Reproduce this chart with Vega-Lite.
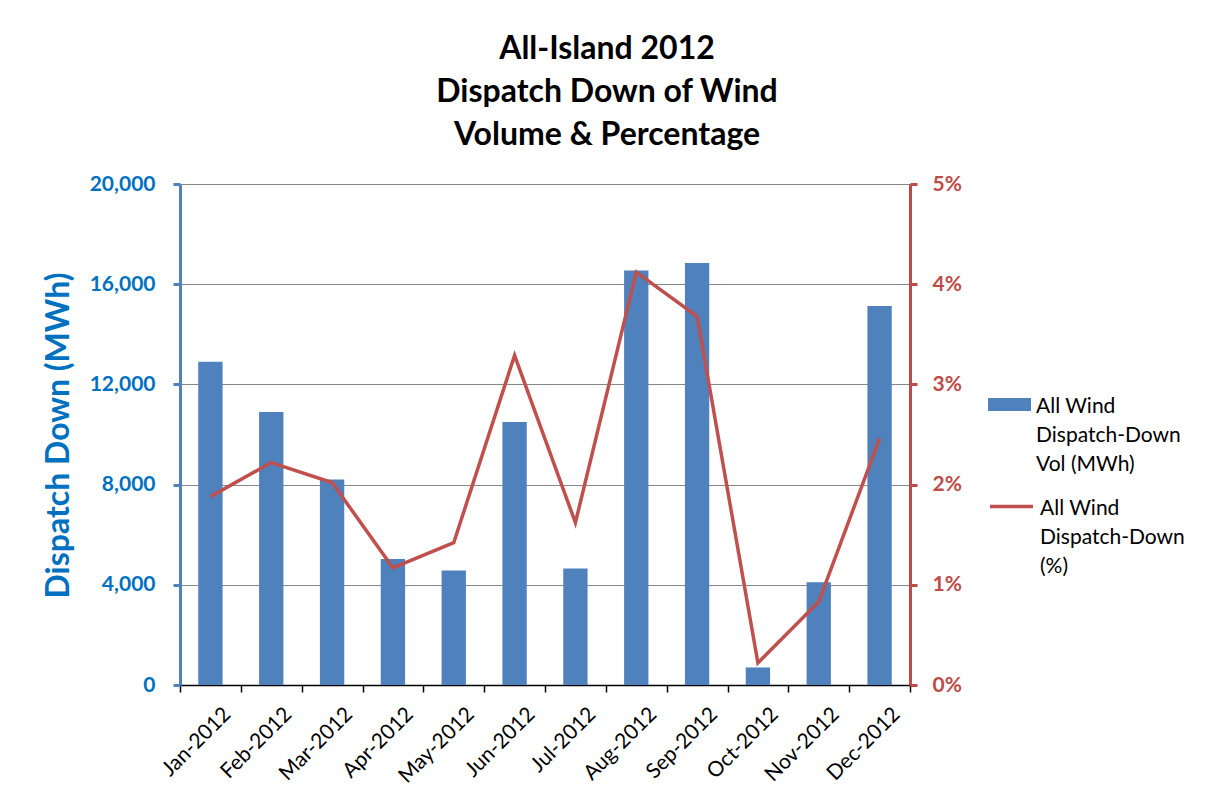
{
  "$schema": "https://vega.github.io/schema/vega-lite/v6.json",
  "width": 730,
  "height": 501,
  "autosize": {"type": "none"},
  "padding": {"left": 180, "top": 184, "right": 295, "bottom": 126},
  "background": "white",
  "title": {
    "text": ["All-Island 2012", "Dispatch Down of Wind", "Volume & Percentage"],
    "font": "Lato",
    "fontSize": 32,
    "fontWeight": "bold",
    "color": "black",
    "lineHeight": 43,
    "anchor": "middle",
    "dx": 62,
    "offset": 21
  },
  "data": {
    "values": [
      {"month": "Jan-2012", "vol": 12900, "pct": 0.0188},
      {"month": "Feb-2012", "vol": 10900, "pct": 0.0222},
      {"month": "Mar-2012", "vol": 8200, "pct": 0.0202},
      {"month": "Apr-2012", "vol": 5030, "pct": 0.0117},
      {"month": "May-2012", "vol": 4570, "pct": 0.0142},
      {"month": "Jun-2012", "vol": 10500, "pct": 0.0329},
      {"month": "Jul-2012", "vol": 4650, "pct": 0.0162},
      {"month": "Aug-2012", "vol": 16550, "pct": 0.0412},
      {"month": "Sep-2012", "vol": 16850, "pct": 0.0368},
      {"month": "Oct-2012", "vol": 700, "pct": 0.0022},
      {"month": "Nov-2012", "vol": 4100, "pct": 0.0083},
      {"month": "Dec-2012", "vol": 15130, "pct": 0.0246}
    ]
  },
  "encoding": {
    "x": {
      "field": "month",
      "type": "ordinal",
      "sort": null,
      "scale": {"paddingInner": 0, "paddingOuter": 0},
      "axis": {
        "title": null,
        "labelAngle": -45,
        "labelFont": "Lato",
        "labelFontSize": 21,
        "labelColor": "black",
        "labelPadding": 11,
        "labelOffset": 9,
        "domainColor": "black",
        "domainWidth": 1.5,
        "tickColor": "black",
        "tickBand": "extent",
        "tickSize": 7,
        "tickWidth": 1.5
      }
    }
  },
  "layer": [
    {
      "mark": {"type": "bar", "color": "#4F81BD", "width": {"band": 0.4}},
      "encoding": {
        "y": {
          "field": "vol",
          "type": "quantitative",
          "scale": {"domain": [0, 20000]},
          "axis": {
            "values": [0, 4000, 8000, 12000, 16000, 20000],
            "format": ",d",
            "labelFont": "Lato",
            "labelFontSize": 21,
            "labelFontWeight": "bold",
            "labelColor": "#0070C0",
            "domainColor": "#4F81BD",
            "domainWidth": 3,
            "tickColor": "#4F81BD",
            "tickWidth": 3,
            "tickSize": 7,
            "labelPadding": 18,
            "grid": true,
            "gridColor": "#878787",
            "gridWidth": 1,
            "title": "Dispatch Down (MWh)",
            "titleFont": "Lato",
            "titleFontSize": 32,
            "titleFontWeight": "bold",
            "titleColor": "#0070C0",
            "titleX": -122,
            "titleY": 251,
            "titleAngle": -90,
            "titleAlign": "center",
            "titleBaseline": "middle"
          }
        },
        "fill": {
          "datum": "All Wind|Dispatch-Down|Vol (MWh)",
          "type": "nominal",
          "scale": {"range": ["#4F81BD"]},
          "legend": {
            "orient": "none",
            "legendX": 808,
            "legendY": 190,
            "padding": 0,
            "title": null,
            "symbolType": "M-1,0.12H1V0.72H-1Z",
            "symbolSize": 1849,
            "symbolStrokeWidth": 0,
            "labelExpr": "split(datum.label, '|')",
            "labelFont": "Lato",
            "labelFontSize": 21,
            "labelColor": "black",
            "labelBaseline": "top",
            "labelOffset": 5,
            "labelLimit": 300
          }
        }
      }
    },
    {
      "mark": {"type": "line", "strokeWidth": 3.5, "color": "#C0504D"},
      "encoding": {
        "y": {
          "field": "pct",
          "type": "quantitative",
          "scale": {"domain": [0, 0.05]},
          "axis": {
            "orient": "right",
            "values": [0, 0.01, 0.02, 0.03, 0.04, 0.05],
            "format": ".0%",
            "labelFont": "Lato",
            "labelFontSize": 21,
            "labelFontWeight": "bold",
            "labelColor": "#BE4B48",
            "domainColor": "#BE4B48",
            "domainWidth": 3,
            "tickColor": "#BE4B48",
            "tickWidth": 3,
            "tickSize": 7,
            "labelPadding": 15,
            "grid": false,
            "title": null
          }
        },
        "stroke": {
          "datum": "All Wind|Dispatch-Down|(%)",
          "type": "nominal",
          "scale": {"range": ["#C0504D"]},
          "legend": {
            "orient": "none",
            "legendX": 808,
            "legendY": 290,
            "padding": 0,
            "title": null,
            "symbolType": "M-1,0.42H1",
            "symbolSize": 1849,
            "symbolStrokeWidth": 3.5,
            "symbolFillColor": "transparent",
            "labelExpr": "split(datum.label, '|')",
            "labelFont": "Lato",
            "labelFontSize": 21,
            "labelColor": "black",
            "labelBaseline": "top",
            "labelOffset": 5,
            "labelLimit": 300
          }
        }
      }
    }
  ],
  "resolve": {"scale": {"y": "independent"}},
  "config": {
    "view": {"stroke": null},
    "style": {"guide-label": {"lineHeight": 29}}
  }
}
